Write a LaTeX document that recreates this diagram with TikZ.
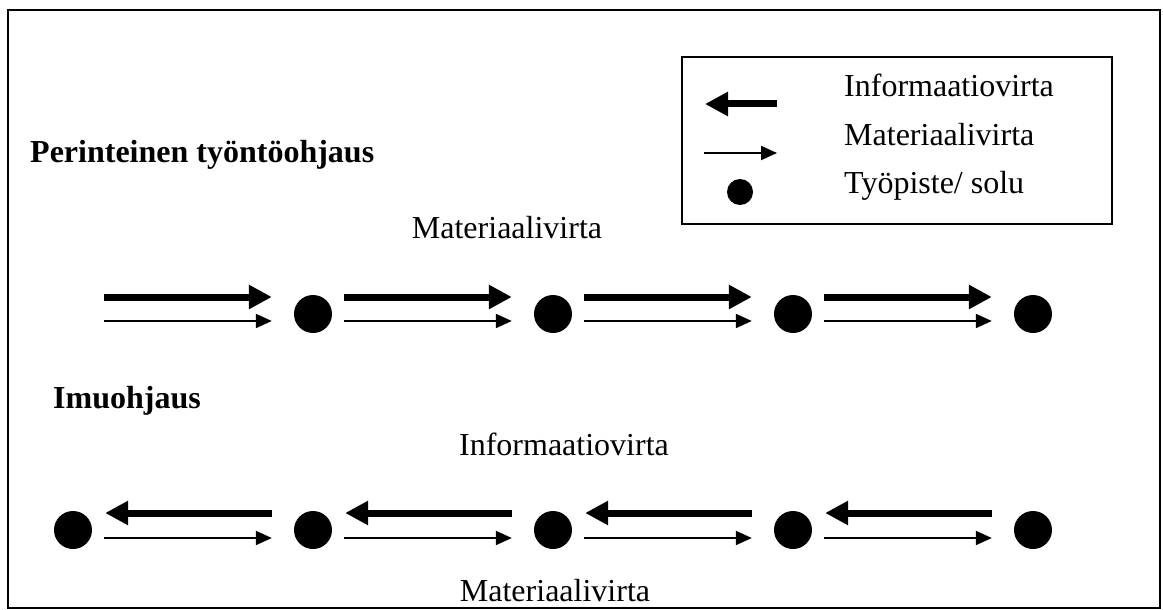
\documentclass[tikz,border=0pt]{standalone}
\usepackage{fontspec}
\setmainfont{Liberation Serif}
\usetikzlibrary{arrows.meta}
\usetikzlibrary{positioning}
\tikzset {
  % thick arrow: information flow
  info/.style = {
    line width = 7pt,
    -{Triangle[length = 23pt, width = 23pt]}
  },
  % thin arrow: material flow
  mat/.style = {
    line width = 2pt,
    -{Triangle[length = 16pt, width = 14pt]}
  },
  % work station / cell
  cell/.style = {
    circle,
    fill = black,
    minimum size = 38pt,
    inner sep = 0
  },
  txt/.style = {
    font = \fontsize{32}{38}\selectfont,
    inner sep = 0
  },
  head/.style = {
    txt,
    font = \fontsize{32}{38}\selectfont\bfseries
  }
}
\begin{document}
\begin{tikzpicture}[x = 1pt, y = -1pt]
    \useasboundingbox (0,0) rectangle (1163,610);
    \draw[line width = 2pt] (8,10) rectangle (1160,608);

    % legend
    \draw[line width = 1.5pt] (682,57) rectangle (1112,224);
    \node[txt, anchor = base west] (t-info) at (844,97) {Informaatiovirta};
    \node[txt, anchor = base west] (t-mat) at (844,146) {Materiaalivirta};
    \node[txt, anchor = base west] (t-cell) at (844,193) {Työpiste/ solu};
    \coordinate (l-info-a) at (777,104);
    \coordinate (l-info-b) at (705,104);
    \coordinate (l-mat-a) at (704,153);
    \coordinate (l-mat-b) at (777,153);
    \node[cell, minimum size = 26pt] (l-cell) at (740,192) {};
    \draw[info] (l-info-a) -- (l-info-b);
    \draw[mat] (l-mat-a) -- (l-mat-b);

    % titles
    \node[head, anchor = base west] (push) at (30,162) {Perinteinen työntöohjaus};
    \node[head, anchor = base west] (pull) at (53,408) {Imuohjaus};
    \node[txt, anchor = base] (push-mat) at (507,238) {Materiaalivirta};
    \node[txt, anchor = base] (pull-info) at (564,455) {Informaatiovirta};
    \node[txt, anchor = base] (pull-mat) at (555,601) {Materiaalivirta};

    % push row
    \coordinate (a0) at (92,314);
    \foreach \i in {1,...,4}
      \node[cell] (a\i) at (73+240*\i,314) {};
    \draw[info, shorten <= 12pt, shorten >= 22pt] ([yshift = 17pt]a0) -- ([yshift = 17pt]a1.west);
    \draw[mat, shorten <= 12pt, shorten >= 22pt] ([yshift = -7pt]a0) -- ([yshift = -7pt]a1.west);
    \foreach \i [remember = \i as \j (initially 1)] in {2,...,4} {
      \draw[info, shorten <= 12pt, shorten >= 22pt] ([yshift = 17pt]a\j.east) -- ([yshift = 17pt]a\i.west);
      \draw[mat, shorten <= 12pt, shorten >= 22pt] ([yshift = -7pt]a\j.east) -- ([yshift = -7pt]a\i.west);
    }

    % pull row
    \foreach \i in {0,...,4}
      \node[cell] (b\i) at (73+240*\i,530) {};
    \foreach \i [remember = \i as \j (initially 0)] in {1,...,4} {
      \draw[info, shorten <= 22pt, shorten >= 13pt] ([yshift = 17pt]b\i.west) -- ([yshift = 17pt]b\j.east);
      \draw[mat, shorten <= 12pt, shorten >= 22pt] ([yshift = -8pt]b\j.east) -- ([yshift = -8pt]b\i.west);
    }
  \end{tikzpicture}
\end{document}
